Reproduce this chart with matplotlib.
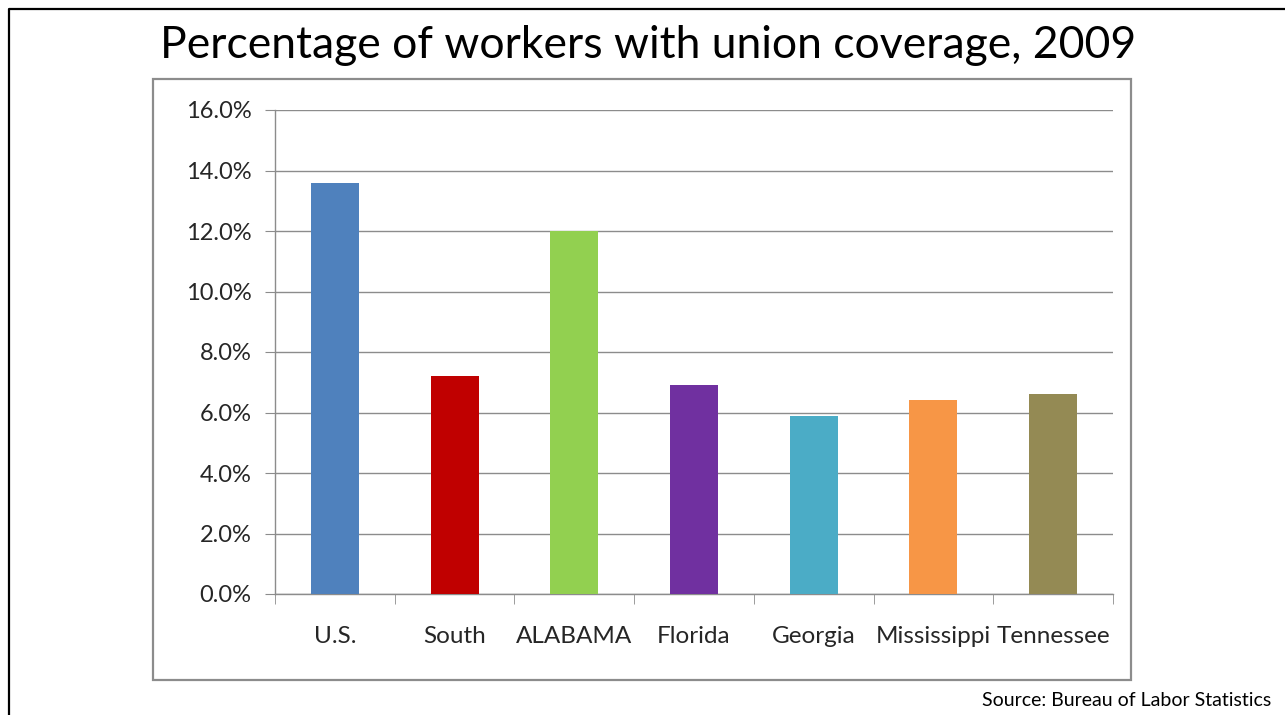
import matplotlib.pyplot as plt
from matplotlib.patches import Rectangle
from matplotlib.lines import Line2D
from matplotlib.ticker import FuncFormatter
import numpy as np

plt.rcParams['font.family'] = ['Lato', 'DejaVu Sans']

regions = ["U.S.", "South", "ALABAMA", "Florida", "Georgia", "Mississippi", "Tennessee"]
coverage = [13.6, 7.2, 12.0, 6.9, 5.9, 6.4, 6.6]
bar_colors = ["#4F81BD", "#C00000", "#92D050", "#7030A0", "#4BACC6", "#F79646", "#948A54"]

fig = plt.figure(figsize=(12.85, 7.15), dpi=100)

# outer slide frame (only left and top edges are in view)
fig.add_artist(Line2D([9/1285, 9/1285, 1.0], [0.0, 1 - 9/715, 1 - 9/715],
                      transform=fig.transFigure, color="black", lw=1.6))

# chart area box
fig.add_artist(Rectangle((153/1285, 1 - 680/715), (1131 - 153)/1285, (680 - 79)/715,
                         transform=fig.transFigure, fill=False, edgecolor="#8c8c8c", lw=1.6))

ax = fig.add_axes([275/1285, 1 - 594/715, (1113 - 275)/1285, (594 - 110)/715])

x = np.arange(len(regions))
ax.bar(x, coverage, width=0.4, color=bar_colors, zorder=3)

ax.set_xlim(-0.5, len(regions) - 0.5)
ax.set_ylim(0, 16)
ax.set_yticks(np.arange(0, 17, 2))
ax.yaxis.set_major_formatter(FuncFormatter(lambda v, p: f"{v:.1f}%"))
ax.grid(axis="y", color="#8c8c8c", lw=1.0, zorder=0)

ax.set_xticks(x)
ax.set_xticklabels(regions)
ax.set_xticks(np.arange(-0.5, len(regions)), minor=True)
ax.tick_params(axis="x", which="major", length=0, pad=23, labelsize=17.5, labelcolor="#262626")
ax.tick_params(axis="x", which="minor", length=7, color="#8c8c8c", direction="out")
ax.tick_params(axis="y", length=7, color="#8c8c8c", pad=10, labelsize=17, labelcolor="#262626")

for side in ["top", "right"]:
    ax.spines[side].set_visible(False)
for side in ["left", "bottom"]:
    ax.spines[side].set_color("#8c8c8c")
    ax.spines[side].set_linewidth(1.0)

fig.text(648/1285, 1 - 46/715, "Percentage of workers with union coverage, 2009",
         ha="center", va="center", fontsize=32, color="black")
fig.text(1271/1285, 1 - 700/715, "Source: Bureau of Labor Statistics",
         ha="right", va="center", fontsize=14, color="black")

fig.savefig("out.png", dpi=100)
